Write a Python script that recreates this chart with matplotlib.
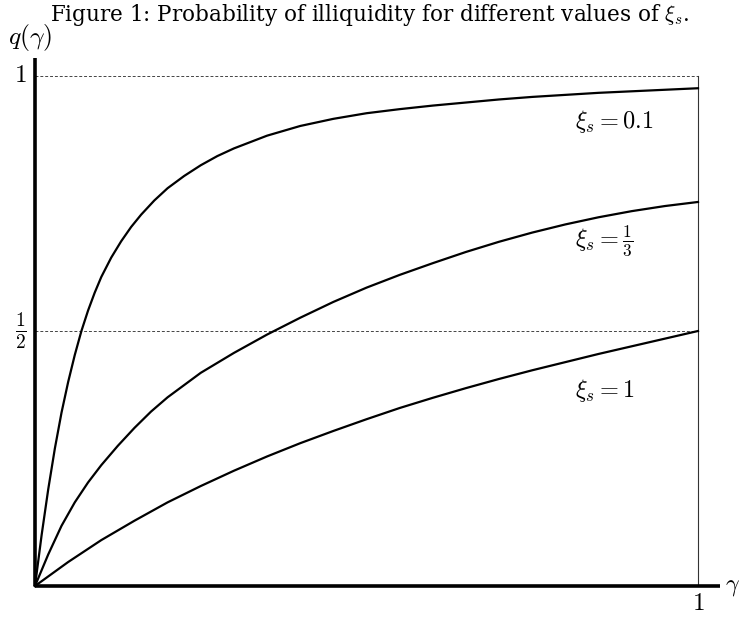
import matplotlib
matplotlib.use("Agg")
import matplotlib.pyplot as plt

plt.rcParams['mathtext.fontset'] = 'cm'
plt.rcParams['font.family'] = ['DejaVu Serif']

# Data
gamma_top = [0, 0.005, 0.01, 0.015, 0.02, 0.03, 0.04, 0.05, 0.06, 0.07, 0.08, 0.09, 0.1, 0.115, 0.13,
             0.145, 0.16, 0.18, 0.2, 0.225, 0.25, 0.275, 0.3, 0.35, 0.4, 0.45, 0.5, 0.55, 0.6, 0.65,
             0.7, 0.75, 0.8, 0.85, 0.9, 0.95, 1.0]
q_top = [0, 0.05, 0.10, 0.145, 0.19, 0.27, 0.34, 0.40, 0.453, 0.5, 0.54, 0.575, 0.606, 0.644, 0.676,
         0.704, 0.728, 0.756, 0.78, 0.804, 0.825, 0.843, 0.858, 0.883, 0.902, 0.916, 0.927, 0.935, 0.942, 0.948,
         0.954, 0.959, 0.963, 0.967, 0.97, 0.973, 0.976]

gamma_mid = [0, 0.02, 0.04, 0.06, 0.08, 0.1, 0.125, 0.15, 0.175, 0.2, 0.25, 0.3, 0.35, 0.4, 0.45,
             0.5, 0.55, 0.6, 0.65, 0.7, 0.75, 0.8, 0.85, 0.9, 0.95, 1.0]
q_mid = [0, 0.062, 0.118, 0.164, 0.203, 0.237, 0.275, 0.31, 0.342, 0.37, 0.418, 0.457, 0.493, 0.526, 0.557,
         0.585, 0.61, 0.633, 0.655, 0.675, 0.693, 0.709, 0.723, 0.735, 0.745, 0.753]

gamma_bot = [0, 0.05, 0.1, 0.15, 0.2, 0.25, 0.3, 0.35, 0.4, 0.45, 0.5, 0.55, 0.6, 0.65, 0.7, 0.75,
             0.8, 0.85, 0.9, 0.95, 1.0]
q_bot = [0, 0.047, 0.09, 0.128, 0.164, 0.196, 0.226, 0.254, 0.28, 0.304, 0.327, 0.349, 0.369, 0.388, 0.406, 0.423,
         0.439, 0.455, 0.47, 0.485, 0.5]

curve_labels = [r'$\xi_s = 0.1$', r'$\xi_s = \frac{1}{3}$', r'$\xi_s = 1$']
label_y = [0.91, 0.678, 0.384]
ytick_vals = [0.5, 1.0]
ytick_labels = [r'$\frac{1}{2}$', r'$1$']

fig = plt.figure(figsize=(7.4, 6.18), dpi=100)
ax = fig.add_axes([35/740, 32/618, 663/740, 510/618])
ax.set_xlim(0, 1)
ax.set_ylim(0, 1)
ax.axis('off')

# dashed guides
for yv in ytick_vals:
    ax.plot([0, 1], [yv, yv], color='#444444', lw=0.7, ls=(0, (3, 2)), clip_on=False)
# right vertical line at gamma = 1
ax.plot([1, 1], [0, 1], color='#333333', lw=0.8, clip_on=False)

# curves
for g, q in [(gamma_top, q_top), (gamma_mid, q_mid), (gamma_bot, q_bot)]:
    ax.plot(g, q, color='black', lw=1.6, clip_on=False, solid_joinstyle='round')

# axes lines
ax.plot([0, 1.033], [0, 0], color='black', lw=2.6, clip_on=False, solid_capstyle='butt')
ax.plot([0, 0], [0, 1.035], color='black', lw=2.6, clip_on=False, solid_capstyle='butt')

# curve labels
for lab, yv in zip(curve_labels, label_y):
    ax.text(0.815, yv, lab, fontsize=17.5, ha='left', va='center')

# y tick labels
for yv, lab in zip(ytick_vals, ytick_labels):
    ax.text(-0.012, yv, lab, fontsize=18 if yv == 1.0 else 20, ha='right', va='center')

# axis labels
ax.text(-0.04, 1.075, r'$q(\gamma)$', fontsize=18.5, ha='left', va='center')
ax.text(1.04, 0.0, r'$\gamma$', fontsize=17, ha='left', va='center')
ax.text(1.0, -0.035, r'$1$', fontsize=18, ha='center', va='center')

fig.text(0.5, 0.976, r'Figure 1: Probability of illiquidity for different values of $\xi_s$.',
         fontsize=15.5, ha='center', va='center')

fig.savefig('out.png', dpi=100)
